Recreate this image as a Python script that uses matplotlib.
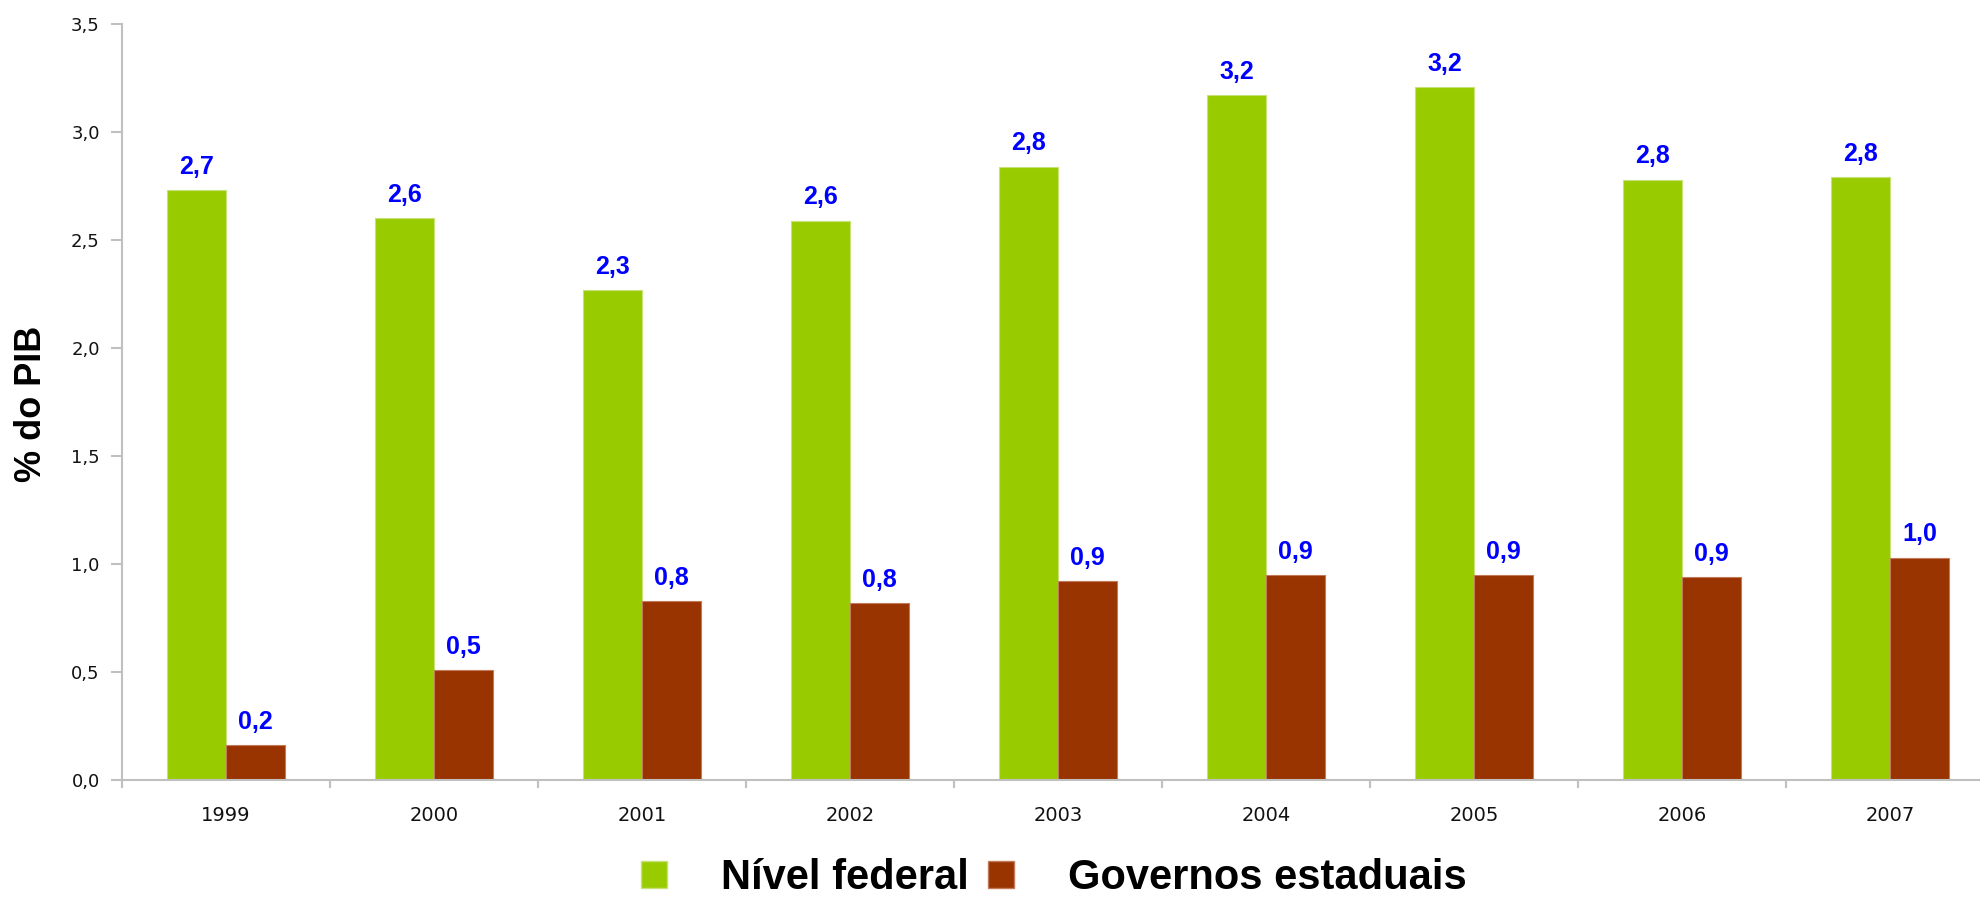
import numpy as np
from matplotlib import pyplot as plt
from matplotlib.patches import Patch

years = ["1999", "2000", "2001", "2002", "2003", "2004", "2005", "2006", "2007"]
federal = [2.73, 2.60, 2.27, 2.59, 2.84, 3.17, 3.21, 2.78, 2.79]
estadual = [0.16, 0.51, 0.83, 0.82, 0.92, 0.95, 0.95, 0.94, 1.03]
series_names = ["Nível federal", "Governos estaduais"]
y_ticks = [0.0, 0.5, 1.0, 1.5, 2.0, 2.5, 3.0, 3.5]

green = "#99cc00"
brown = "#993300"
axis_gray = "#c0c0c0"


def fmt(v):
    # portuguese decimal comma
    return f"{v:.1f}".replace(".", ",")


fig = plt.figure(figsize=(19.81, 8.97), dpi=100)
# axes runs slightly past the right edge, like the original export
ax = fig.add_axes([122 / 1981, 117 / 897, 1872 / 1981, 756 / 897])

x = np.arange(len(years))
width = 0.285
b1 = ax.bar(x - width / 2, federal, width, color=green, edgecolor="#c8e07a", linewidth=0.8)
b2 = ax.bar(x + width / 2, estadual, width, color=brown, edgecolor="#c27a5a", linewidth=0.8)

for bars, vals in [(b1, federal), (b2, estadual)]:
    for rect, v in zip(bars, vals):
        ax.annotate(fmt(v), (rect.get_x() + rect.get_width() / 2, rect.get_height()),
                    xytext=(0, 8), textcoords="offset points", ha="center", va="bottom",
                    color="#0000ff", fontsize=18, fontweight="bold", family="Liberation Sans")

ax.set_xlim(-0.5, len(years) - 0.5)
ax.set_ylim(0, 3.5)

# tick marks between categories, labels in the middle
ax.set_xticks(np.arange(len(years) + 1) - 0.5)
ax.set_xticklabels([])
ax.set_xticks(x, minor=True)
ax.set_xticklabels(years, minor=True, fontsize=14, family="DejaVu Sans", color="#111111")
ax.tick_params(axis="x", which="major", direction="out", length=6, width=1.5, color=axis_gray)
ax.tick_params(axis="x", which="minor", length=0, pad=19)

ax.set_yticks(y_ticks)
ax.set_yticklabels([fmt(t) for t in y_ticks], fontsize=13, family="DejaVu Sans", color="#111111")
ax.tick_params(axis="y", direction="out", length=8, width=1.5, color=axis_gray, pad=8)

for side in ["top", "right"]:
    ax.spines[side].set_visible(False)
for side in ["left", "bottom"]:
    ax.spines[side].set_color(axis_gray)
    ax.spines[side].set_linewidth(1.5)

fig.text(32 / 1981, 1 - 404 / 897, "% do PIB", rotation=90, ha="center", va="center",
         fontsize=26, fontweight="bold", family="Liberation Sans")

handles = [Patch(facecolor=green, edgecolor="#c8e07a"), Patch(facecolor=brown, edgecolor="#c27a5a")]
fig.legend(handles, series_names, loc="center", bbox_to_anchor=(1054 / 1981, 1 - 878 / 897),
           ncol=2, frameon=False, borderpad=0, handlelength=0.62, handleheight=0.6,
           handletextpad=1.3, columnspacing=0.45,
           prop={"family": "Liberation Sans", "weight": "bold", "size": 30})

fig.savefig("out.png", dpi=100)
